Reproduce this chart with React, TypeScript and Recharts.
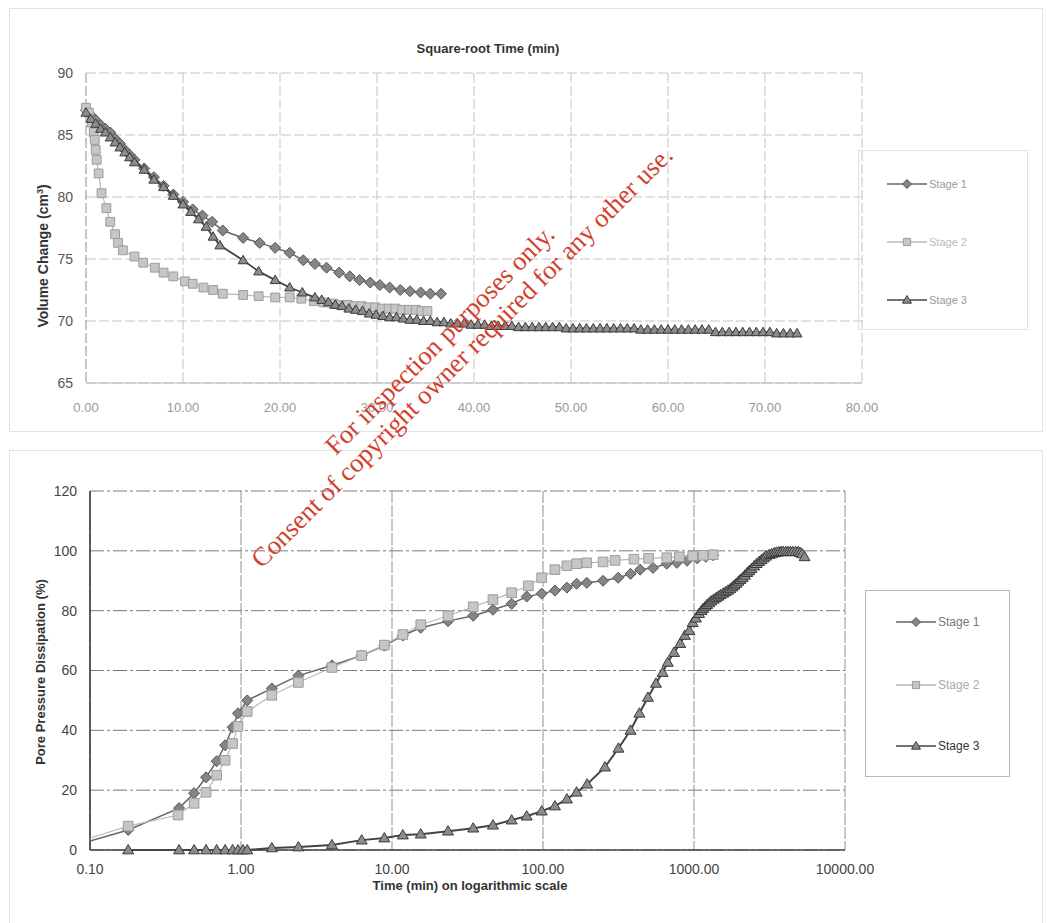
import React from 'react'
import { ScatterChart, Scatter, XAxis, YAxis, CartesianGrid } from 'recharts'

// ---- top panel: volume change vs square-root time ----
const SQRT_TICKS = [0, 10, 20, 30, 40, 50, 60, 70, 80]
const VOL_TICKS = [65, 70, 75, 80, 85, 90]

const TOP_STAGE1: [number, number][] = [
    [0.0, 87.0], [0.5, 86.6], [1.0, 86.2], [1.5, 85.8], [2.0, 85.5], [2.5, 85.2],
    [3.0, 84.7], [3.5, 84.3], [4.0, 83.8], [4.5, 83.4], [5.0, 83.0], [6.0, 82.3],
    [7.0, 81.6], [8.0, 80.9], [9.0, 80.2], [10.0, 79.6], [11.0, 79.0], [12.0, 78.5],
    [13.0, 78.0], [14.1, 77.3], [16.2, 76.7], [17.9, 76.3], [19.5, 75.9], [21.0, 75.5],
    [22.4, 74.9], [23.6, 74.6], [24.8, 74.3], [26.1, 73.9], [27.2, 73.6], [28.2, 73.3],
    [29.3, 73.1], [30.3, 72.9], [31.3, 72.7], [32.4, 72.5], [33.4, 72.4], [34.5, 72.3],
    [35.5, 72.2], [36.6, 72.2],
]

const TOP_STAGE2: [number, number][] = [
    [0.0, 87.2], [0.3, 86.8], [0.6, 86.0], [0.8, 85.2], [0.9, 84.6], [1.0, 83.8],
    [1.1, 83.0], [1.3, 81.9], [1.6, 80.3], [2.1, 79.1], [2.5, 78.0], [3.0, 77.0],
    [3.3, 76.3], [3.8, 75.7], [5.0, 75.2], [5.9, 74.7], [7.1, 74.3], [8.0, 73.9],
    [9.0, 73.6], [10.2, 73.2], [11.0, 73.0], [12.1, 72.7], [13.1, 72.5], [14.1, 72.2],
    [16.2, 72.1], [17.8, 72.0], [19.5, 71.9], [21.0, 71.9], [22.2, 71.8], [23.5, 71.6],
    [24.5, 71.5], [25.5, 71.4], [26.3, 71.3], [27.0, 71.3], [27.7, 71.2], [28.4, 71.2],
    [29.1, 71.1], [29.8, 71.1], [30.5, 71.0], [31.2, 71.0], [31.9, 71.0], [32.6, 70.9],
    [33.3, 70.9], [34.0, 70.9], [34.6, 70.8], [35.2, 70.8],
]

const TOP_STAGE3: [number, number][] = [
    [0.0, 86.8], [0.5, 86.3], [1.0, 85.9], [1.5, 85.5], [2.0, 85.2], [2.5, 84.8],
    [3.0, 84.4], [3.5, 84.0], [4.0, 83.6], [4.5, 83.2], [5.0, 82.8], [6.0, 82.2],
    [7.0, 81.4], [8.0, 80.8], [9.0, 80.1], [10.0, 79.4], [10.8, 78.8], [11.6, 78.2],
    [12.4, 77.6], [13.1, 76.8], [13.8, 76.1], [16.2, 74.9], [17.8, 74.0], [19.5, 73.3],
    [21.0, 72.7], [22.3, 72.3], [23.6, 71.9], [24.3, 71.7], [25.0, 71.5], [25.7, 71.3],
    [26.4, 71.2], [27.1, 71.0], [27.8, 70.9], [28.5, 70.8], [29.2, 70.6], [29.9, 70.5],
    [30.6, 70.4], [31.3, 70.3], [32.0, 70.3], [32.7, 70.2], [33.4, 70.1], [34.1, 70.1],
    [34.8, 70.0], [35.5, 70.0], [36.2, 69.9], [36.9, 69.9], [37.6, 69.8], [38.3, 69.8],
    [39.0, 69.8], [39.7, 69.7], [40.4, 69.7], [41.1, 69.7], [41.8, 69.6], [42.5, 69.6],
    [43.2, 69.6], [43.9, 69.6], [44.6, 69.5], [45.3, 69.5], [46.0, 69.5], [46.7, 69.5],
    [47.4, 69.5], [48.1, 69.5], [48.8, 69.5], [49.5, 69.4], [50.2, 69.4], [50.9, 69.4],
    [51.6, 69.4], [52.3, 69.4], [53.0, 69.4], [53.7, 69.4], [54.4, 69.4], [55.1, 69.4],
    [55.8, 69.4], [56.5, 69.4], [57.2, 69.3], [57.9, 69.3], [58.6, 69.3], [59.3, 69.3],
    [60.0, 69.3], [60.7, 69.3], [61.4, 69.3], [62.1, 69.3], [62.8, 69.3], [63.5, 69.3],
    [64.2, 69.3], [64.9, 69.1], [65.6, 69.1], [66.3, 69.1], [67.0, 69.1], [67.7, 69.1],
    [68.4, 69.1], [69.1, 69.1], [69.8, 69.1], [70.5, 69.1], [71.2, 69.0], [71.9, 69.0],
    [72.6, 69.0], [73.3, 69.0],
]

// ---- bottom panel: pore pressure dissipation vs log time ----
const LOG_TICKS = [0.1, 1, 10, 100, 1000, 10000]
const PCT_TICKS = [0, 20, 40, 60, 80, 100, 120]

const LOG_STAGE1: [number, number][] = [
    [0.1, 3], [0.179, 6.7], [0.389, 14], [0.489, 19], [0.587, 24.3], [0.69, 29.7],
    [0.785, 35], [0.88, 41], [0.955, 45.7], [1.1, 50], [1.6, 54], [2.4, 58.3],
    [4.0, 61.7], [6.3, 65], [8.9, 68.3], [11.8, 71.7], [15.5, 74.3], [23.5, 76.5],
    [34.5, 78.3], [46.6, 80.3], [62, 82.3], [78, 84.7], [98, 85.7], [120, 86.7],
    [144, 87.7], [167, 89], [195, 89.3], [250, 90], [315, 91], [380, 92.3],
    [440, 93.7], [535, 94.3], [660, 95.7], [770, 96], [900, 96.7], [1050, 97.5],
    [1200, 98], [1340, 98.5],
]

const LOG_STAGE2: [number, number][] = [
    [0.1, 4], [0.179, 8], [0.383, 11.7], [0.489, 15.6], [0.587, 19.3], [0.69, 25],
    [0.785, 30], [0.88, 35.6], [0.955, 41.3], [1.1, 46.3], [1.6, 51.7], [2.4, 56],
    [4.0, 61], [6.3, 65], [8.9, 68.5], [11.8, 72], [15.5, 75.3], [23.5, 78.3],
    [34.5, 81.3], [46.6, 83.7], [62, 86], [80, 88.3], [98, 91], [120, 93.7],
    [144, 95], [167, 95.7], [195, 96], [250, 96.3], [300, 96.8], [400, 97.2],
    [500, 97.5], [660, 97.7], [800, 98], [980, 98.3], [1150, 98.5], [1340, 98.7],
]

const LOG_STAGE3: [number, number][] = [
    [0.179, 0], [0.389, 0], [0.489, 0], [0.587, 0], [0.69, 0], [0.785, 0],
    [0.88, 0], [0.955, 0], [1.03, 0], [1.1, 0], [1.6, 0.7], [2.4, 1],
    [4.0, 1.7], [6.3, 3.3], [8.9, 4], [11.8, 5], [15.5, 5.3], [23.5, 6.3],
    [34.5, 7.3], [46.6, 8.3], [62, 10], [78, 11.3], [98, 13], [120, 14.7],
    [144, 17], [167, 19.3], [196, 22], [257, 27.7], [316, 34], [380, 40],
    [435, 45.7], [495, 51], [560, 55.7], [620, 59.3], [670, 62.7], [737, 66],
    [810, 69], [870, 71.7], [930, 73.3], [980, 76], [1030, 77.5], [1080, 79],
    [1120, 80], [1150, 80.7], [1190, 81.4], [1220, 82], [1260, 82.6], [1300, 83.2],
    [1350, 83.8], [1400, 84.3], [1450, 84.8], [1500, 85.3], [1560, 85.8], [1620, 86.3],
    [1680, 86.8], [1740, 87.3], [1800, 87.9], [1850, 88.5], [1910, 89.1], [1970, 89.8],
    [2030, 90.4], [2100, 91], [2170, 91.8], [2250, 92.7], [2320, 93.3], [2400, 94],
    [2500, 94.9], [2600, 95.7], [2700, 96.4], [2800, 97], [2900, 97.6], [3000, 98.2],
    [3150, 98.7], [3270, 99], [3400, 99.3], [3520, 99.5], [3650, 99.6], [3780, 99.7],
    [3900, 99.7], [4050, 99.7], [4200, 99.7], [4350, 99.7], [4500, 99.7], [4700, 99.7],
    [4900, 99.7], [5050, 99.4], [5200, 99], [5400, 98],
]

const toPts = (rows: [number, number][]) => rows.map(([x, y]) => ({ x, y }))

const FONT = 'Arial, "Liberation Sans", sans-serif'

type Style = { line: string; fill: string; stroke: string; width: number }
const S1: Style = { line: '#666', fill: '#858585', stroke: '#555', width: 1.5 }
const S2: Style = { line: '#b8b8b8', fill: '#c6c6c6', stroke: '#9c9c9c', width: 1.2 }
const S3: Style = { line: '#444', fill: '#8c8c8c', stroke: '#3a3a3a', width: 1.8 }

function markerPath(kind: string, cx: number, cy: number, r: number) {
    if (kind === 'diamond') return `M${cx},${cy - r}L${cx + r},${cy}L${cx},${cy + r}L${cx - r},${cy}Z`
    if (kind === 'square') return `M${cx - r * 0.8},${cy - r * 0.8}h${r * 1.6}v${r * 1.6}h${-r * 1.6}Z`
    return `M${cx},${cy - r}L${cx + r},${cy + r * 0.7}L${cx - r},${cy + r * 0.7}Z`
}

const makeShape = (kind: string, st: Style, r: number, minX?: number) => (props: any) => {
    const { cx, cy } = props
    if (cx == null || cy == null) return <g />
    const px = props.payload ? props.payload.x : props.x
    if (minX !== undefined && px <= minX) return <g />
    return <path d={markerPath(kind, cx, cy, r)} fill={st.fill} stroke={st.stroke} strokeWidth={1} />
}

function LegendBox({ left, top, width, height, border, items }: any) {
    return (
        <div style={{ position: 'absolute', left, top, width, height, border: `1px solid ${border}`, boxSizing: 'border-box' }}>
            {items.map((it: any) => (
                <div key={it.label} style={{ position: 'absolute', left: it.x, top: it.y - 8, height: 16, display: 'flex', alignItems: 'center' }}>
                    <svg width={40} height={16}>
                        <line x1={0} y1={8} x2={40} y2={8} stroke={it.st.line} strokeWidth={1.5} />
                        <path d={markerPath(it.kind, 20, 8, 4.5)} fill={it.st.fill} stroke={it.st.stroke} strokeWidth={1} />
                    </svg>
                    <span style={{ fontFamily: FONT, fontSize: it.size, color: it.color, marginLeft: 2 }}>{it.label}</span>
                </div>
            ))}
        </div>
    )
}

export default function App() {
    const tickTop = { fontFamily: FONT, fontSize: 14, fill: '#555' }
    const tickTopX = { fontFamily: FONT, fontSize: 13, fill: '#999' }
    const tickBot = { fontFamily: FONT, fontSize: 14, fill: '#444' }
    const bold = { fontFamily: FONT, fontWeight: 700, fontSize: 13, color: '#333', position: 'absolute' as const, whiteSpace: 'nowrap' as const }
    const mark = { position: 'absolute' as const, color: '#d2402e', fontFamily: '"Liberation Serif", "DejaVu Serif", serif', fontSize: 26.5, whiteSpace: 'nowrap' as const }

    return (
        <div style={{ position: 'absolute', left: 0, top: 0, width: 1047, height: 923, background: '#fff', overflow: 'hidden' }}>
            {/* panel frames */}
            <div style={{ position: 'absolute', left: 9, top: 8, width: 1032, height: 422, border: '1px solid #e4e4e4' }} />
            <div style={{ position: 'absolute', left: 9, top: 450, width: 1032, height: 480, border: '1px solid #e4e4e4' }} />

            <div style={{ position: 'absolute', left: 0, top: 0 }}>
                <ScatterChart width={1047} height={430} margin={{ top: 73, right: 185, bottom: 17, left: 0 }}>
                    <CartesianGrid stroke="#c4c4c4" strokeDasharray="10 3" />
                    <XAxis
                        type="number"
                        dataKey="x"
                        domain={[0, 80]}
                        ticks={SQRT_TICKS}
                        height={30}
                        tickSize={0}
                        tickMargin={20}
                        stroke="#bbb"
                        tick={tickTopX}
                        tickFormatter={(v: number) => v.toFixed(2)}
                    />
                    <YAxis
                        type="number"
                        dataKey="y"
                        domain={[65, 90]}
                        ticks={VOL_TICKS}
                        width={86}
                        tickSize={0}
                        tickMargin={13}
                        stroke="#aaa"
                        strokeDasharray="10 3"
                        tick={tickTop}
                    />
                    <Scatter data={toPts(TOP_STAGE1)} line={{ stroke: S1.line, strokeWidth: S1.width }} lineType="joint" shape={makeShape('diamond', S1, 5.5)} isAnimationActive={false} />
                    <Scatter data={toPts(TOP_STAGE2)} line={{ stroke: S2.line, strokeWidth: S2.width }} lineType="joint" shape={makeShape('square', S2, 5.5)} isAnimationActive={false} />
                    <Scatter data={toPts(TOP_STAGE3)} line={{ stroke: S3.line, strokeWidth: S3.width }} lineType="joint" shape={makeShape('triangle', S3, 5)} isAnimationActive={false} />
                </ScatterChart>
            </div>

            <div style={{ ...bold, left: 488, top: 48, transform: 'translate(-50%, -50%)' }}>Square-root Time (min)</div>
            <div style={{ ...bold, fontSize: 14, left: 43, top: 256, transform: 'translate(-50%, -50%) rotate(-90deg)' }}>
                Volume Change (cm<sup style={{ fontSize: 9 }}>3</sup>)
            </div>

            <LegendBox
                left={858}
                top={150}
                width={170}
                height={180}
                border="#e2e2e2"
                items={[
                    { label: 'Stage 1', kind: 'diamond', st: S1, x: 28, y: 33, size: 11, color: '#999' },
                    { label: 'Stage 2', kind: 'square', st: S2, x: 28, y: 91, size: 11, color: '#bbb' },
                    { label: 'Stage 3', kind: 'triangle', st: S3, x: 28, y: 149, size: 11, color: '#999' },
                ]}
            />

            <div style={{ position: 'absolute', left: 0, top: 440 }}>
                <ScatterChart width={1047} height={483} margin={{ top: 51, right: 202, bottom: 43, left: 0 }}>
                    <CartesianGrid vertical={false} stroke="#7a7a7a" strokeDasharray="14 3 3 3" />
                    <CartesianGrid horizontal={false} stroke="#909090" strokeDasharray="12 2" />
                    <XAxis
                        type="number"
                        dataKey="x"
                        scale="log"
                        domain={[0.1, 10000]}
                        ticks={LOG_TICKS}
                        allowDataOverflow
                        height={30}
                        tickSize={0}
                        tickMargin={14}
                        stroke="#444"
                        strokeWidth={1.5}
                        tick={tickBot}
                        tickFormatter={(v: number) => v.toFixed(2)}
                    />
                    <YAxis
                        type="number"
                        dataKey="y"
                        domain={[0, 120]}
                        ticks={PCT_TICKS}
                        width={90}
                        tickSize={0}
                        tickMargin={13}
                        stroke="#333"
                        strokeWidth={1.5}
                        tick={tickBot}
                    />
                    <Scatter data={toPts(LOG_STAGE1)} line={{ stroke: S1.line, strokeWidth: 1.5 }} lineType="joint" shape={makeShape('diamond', S1, 5.5, 0.1)} isAnimationActive={false} />
                    <Scatter data={toPts(LOG_STAGE2)} line={{ stroke: S2.line, strokeWidth: 1.2 }} lineType="joint" shape={makeShape('square', S2, 6, 0.1)} isAnimationActive={false} />
                    <Scatter data={toPts(LOG_STAGE3)} line={{ stroke: S3.line, strokeWidth: 2 }} lineType="joint" shape={makeShape('triangle', S3, 5.5)} isAnimationActive={false} />
                </ScatterChart>
            </div>

            <div style={{ ...bold, left: 40, top: 672, transform: 'translate(-50%, -50%) rotate(-90deg)' }}>Pore Pressure Dissipation (%)</div>
            <div style={{ ...bold, left: 470, top: 885, transform: 'translate(-50%, -50%)' }}>Time (min) on logarithmic scale</div>

            <LegendBox
                left={865}
                top={590}
                width={145}
                height={187}
                border="#b8b8b8"
                items={[
                    { label: 'Stage 1', kind: 'diamond', st: S1, x: 30, y: 31, size: 12, color: '#777' },
                    { label: 'Stage 2', kind: 'square', st: S2, x: 30, y: 94, size: 12, color: '#aaa' },
                    { label: 'Stage 3', kind: 'triangle', st: S3, x: 30, y: 155, size: 12, color: '#333' },
                ]}
            />

            {/* watermark */}
            <div style={{ ...mark, left: 440, top: 340, transform: 'translate(-50%, -50%) rotate(-45deg)' }}>
                For inspection purposes only.
            </div>
            <div style={{ ...mark, left: 462, top: 357, transform: 'translate(-50%, -50%) rotate(-45deg)' }}>
                Consent of copyright owner required for any other use.
            </div>
        </div>
    )
}
